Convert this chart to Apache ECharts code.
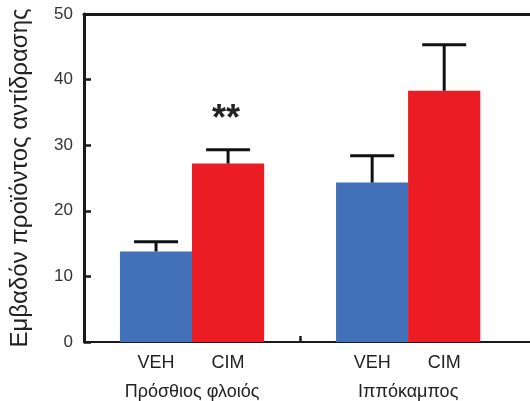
<!DOCTYPE html>
<html><head><meta charset="utf-8">
<script src="https://cdn.jsdelivr.net/npm/echarts@6/dist/echarts.min.js"></script>
<style>html,body{margin:0;padding:0;background:#fff}#c{width:530px;height:401px}</style>
</head><body><div id="c"></div>
<script>
var groups = ['Πρόσθιος φλοιός', 'Ιππόκαμπος'];
var treatments = ['VEH', 'CIM'];
var vehMeans = [13.8, 24.3];
var cimMeans = [27.2, 38.3];
var vehErr = [1.5, 4.1];
var cimErr = [2.1, 7.0];
var significance = [['', '**'], ['', '']];
var yTicks = [0, 10, 20, 30, 40, 50];
var yName = 'Εμβαδόν προϊόντος αντίδρασης';

var colors = ['#4271b9', '#ec1c24'];
var means = [vehMeans, cimMeans];
var errs = [vehErr, cimErr];

var barData = [], errData = [], labelPos = [], labelText = [], groupPos = [], dividers = [];
groups.forEach(function (g, gi) {
  treatments.forEach(function (t, ti) {
    var x = 3 * gi + 1 + ti;
    labelPos.push(x); labelText.push(t);
    barData.push({value: [x, means[ti][gi]], itemStyle: {color: colors[ti]}});
    errData.push([x, means[ti][gi], errs[ti][gi], significance[gi][ti]]);
  });
  groupPos.push(3 * gi + 1.5);
  if (gi < groups.length - 1) dividers.push(3 * gi + 3);
});

var left = 83;
var slot = 72.2;
var xMax = (530 - left) / slot;
var ink = '#1a1a1a';

var xBase = {type: 'value', min: 0, max: xMax, position: 'bottom', splitLine: {show: false}};
var chart = echarts.init(document.getElementById('c'), null, {renderer: 'canvas'});
chart.setOption({
  animation: false,
  grid: {left: left, top: 14, right: 0, bottom: 58, containLabel: false},
  xAxis: [Object.assign({}, xBase, {
    axisLine: {onZero: false, lineStyle: {color: ink, width: 2}},
    axisTick: {show: true, inside: true, length: 6, customValues: dividers, lineStyle: {color: ink, width: 2.5}},
    axisLabel: {color: '#222', fontSize: 18, fontFamily: 'Liberation Sans', margin: 12,
      customValues: labelPos,
      formatter: function (v) { var k = labelPos.indexOf(v); return k >= 0 ? labelText[k] : ''; }}
  }), Object.assign({}, xBase, {
    position: 'top',
    axisLine: {onZero: false, lineStyle: {color: ink, width: 3}},
    axisTick: {show: false}, axisLabel: {show: false}
  }), Object.assign({}, xBase, {
    axisLine: {show: false}, axisTick: {show: false},
    axisLabel: {color: '#222', fontSize: 18, fontFamily: 'Liberation Sans', margin: 41,
      customValues: groupPos,
      formatter: function (v) { var k = groupPos.indexOf(v); return k >= 0 ? groups[k] : ''; }}
  })],
  yAxis: {
    type: 'value', position: 'left', min: yTicks[0], max: yTicks[yTicks.length - 1], interval: 10,
    name: yName, nameLocation: 'middle', nameGap: 52, nameRotate: 90,
    nameTextStyle: {color: '#222', fontSize: 24, fontFamily: 'Liberation Sans'},
    axisLine: {show: true, onZero: false, lineStyle: {color: ink, width: 3}},
    axisTick: {show: true, inside: true, length: 7, lineStyle: {color: ink, width: 2.5}},
    axisLabel: {color: '#333', fontSize: 17, fontFamily: 'Liberation Sans', margin: 11},
    splitLine: {show: false}
  },
  series: [{
    type: 'bar', data: barData, barWidth: slot, xAxisIndex: 0, z: 1
  }, {
    type: 'custom', xAxisIndex: 0, z: 3,
    data: errData,
    renderItem: function (params, api) {
      var x = api.value(0), m = api.value(1), e = api.value(2);
      var base = api.coord([x, m]);
      var top = api.coord([x, m + e]);
      var half = 22;
      var sig = errData[params.dataIndex][3];
      var children = [
        {type: 'line', shape: {x1: base[0], y1: base[1], x2: top[0], y2: top[1]},
          style: {stroke: '#111', lineWidth: 3}},
        {type: 'line', shape: {x1: top[0] - half, y1: top[1], x2: top[0] + half, y2: top[1]},
          style: {stroke: '#111', lineWidth: 3}}
      ];
      if (sig) {
        children.push({type: 'text', x: top[0] - 2, y: top[1] - 12,
          style: {text: sig, fill: '#222', font: 'bold 36px "Liberation Sans"', align: 'center', verticalAlign: 'bottom'}});
      }
      return {type: 'group', children: children};
    }
  }]
});
</script></body></html>
